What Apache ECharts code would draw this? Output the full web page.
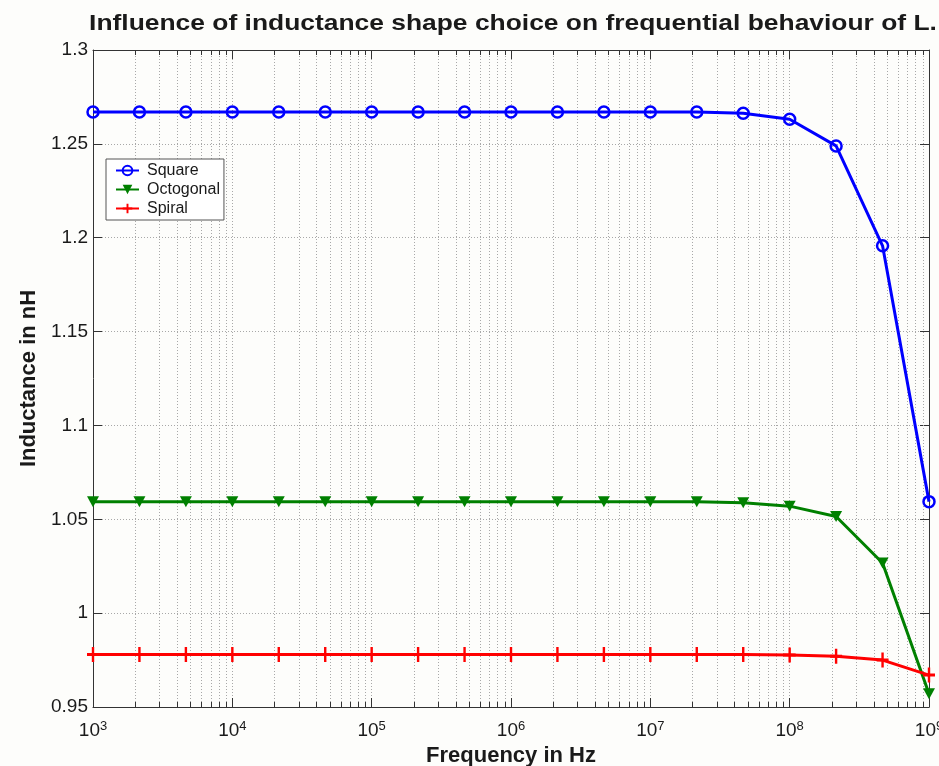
<!DOCTYPE html>
<html>
<head>
<meta charset="utf-8">
<script src="https://cdn.jsdelivr.net/npm/echarts@6/dist/echarts.min.js"></script>
<style>
  html, body { margin: 0; padding: 0; background: #fdfdfb; overflow: hidden; }
  #chart { width: 100vw; height: 100vh; }
</style>
</head>
<body>
<div id="chart"></div>
<script>
// frequency sweep, 3 points per decade
const freqs = [1e3, 2.154e3, 4.642e3, 1e4, 2.154e4, 4.642e4, 1e5, 2.154e5, 4.642e5,
  1e6, 2.154e6, 4.642e6, 1e7, 2.154e7, 4.642e7, 1e8, 2.154e8, 4.642e8, 1e9];

const square = [1.267, 1.267, 1.267, 1.267, 1.267, 1.267, 1.267, 1.267, 1.267, 1.267,
  1.267, 1.267, 1.267, 1.267, 1.2663, 1.2631, 1.2489, 1.1957, 1.0594];
const octogonal = [1.0594, 1.0594, 1.0594, 1.0594, 1.0594, 1.0594, 1.0594, 1.0594, 1.0594, 1.0594,
  1.0594, 1.0594, 1.0594, 1.0594, 1.0588, 1.0570, 1.0515, 1.0267, 0.957];
const spiral = [0.978, 0.978, 0.978, 0.978, 0.978, 0.978, 0.978, 0.978, 0.978, 0.978,
  0.978, 0.978, 0.978, 0.978, 0.978, 0.9777, 0.977, 0.975, 0.967];

const seriesNames = ['Square', 'Octogonal', 'Spiral'];

// minor log gridlines (2..9 in each decade)
const minorMultipliers = [2, 3, 4, 5, 6, 7, 8, 9];
const decades = [1e3, 1e4, 1e5, 1e6, 1e7, 1e8];

const textColor = '#1a1a1a';
const gridColor = '#a8a8a8';
const axisColor = '#333';

const minorData = [];
decades.forEach(d => minorMultipliers.forEach(m => minorData.push([m * d, 1])));

const pair = (ys) => freqs.map((f, i) => [f, ys[i]]);

const chart = echarts.init(document.getElementById('chart'));

const option = {
  backgroundColor: '#fdfdfb',
  animation: false,
  textStyle: { fontFamily: 'Liberation Sans, Arial, sans-serif' },
  graphic: [{
    type: 'text',
    x: 513, y: 24,
    scaleX: 1.2,
    style: {
      text: 'Influence of inductance shape choice on frequential behaviour of L.',
      font: 'bold 22px Liberation Sans, Arial, sans-serif',
      fill: textColor,
      textAlign: 'center',
      textVerticalAlign: 'middle'
    }
  }],
  legend: {
    data: seriesNames,
    orient: 'vertical',
    left: 106,
    top: 159,
    backgroundColor: '#ffffff',
    borderColor: '#555',
    borderWidth: 1,
    borderRadius: 0,
    padding: [3, 4, 3, 9],
    itemGap: 2,
    itemWidth: 23,
    itemHeight: 12,
    textStyle: { fontSize: 16, lineHeight: 17, color: textColor, padding: [0, 0, 0, 3] }
  },
  // keep the plot box where it is even if the 10^9 label spills past the edge
  grid: { left: 93, right: 10, top: 50, bottom: 59, outerBoundsMode: 'none', containLabel: false },
  xAxis: [{
    type: 'log',
    min: 1e3,
    max: 1e9,
    splitNumber: 6,
    name: 'Frequency in Hz',
    nameLocation: 'middle',
    nameGap: 26,
    nameTextStyle: { fontSize: 22, fontWeight: 'bold', color: textColor },
    axisLine: { lineStyle: { color: axisColor } },
    axisTick: { inside: true, length: 9, lineStyle: { color: axisColor } },
    axisLabel: {
      margin: 13,
      formatter: v => '{b|10}{s|' + Math.round(Math.log10(v)) + '}',
      rich: {
        b: { fontSize: 19, lineHeight: 22, color: textColor },
        s: { fontSize: 13, lineHeight: 13, verticalAlign: 'top', color: textColor }
      }
    },
    splitLine: { show: true, lineStyle: { color: gridColor, type: [1, 2] } }
  }, {
    type: 'log',
    position: 'top',
    min: 1e3,
    max: 1e9,
    splitNumber: 6,
    axisLine: { lineStyle: { color: axisColor } },
    axisTick: { inside: true, length: 9, lineStyle: { color: axisColor } },
    axisLabel: { show: false },
    splitLine: { show: false }
  }],
  yAxis: [{
    type: 'value',
    min: 0.95,
    max: 1.3,
    interval: 0.05,
    name: 'Inductance in nH',
    nameLocation: 'middle',
    nameGap: 53,
    nameTextStyle: { fontSize: 22, fontWeight: 'bold', color: textColor },
    axisLine: { show: true, lineStyle: { color: axisColor } },
    axisTick: { show: true, inside: true, length: 9, lineStyle: { color: axisColor } },
    axisLabel: { fontSize: 19, color: textColor, margin: 5 },
    splitLine: { show: true, lineStyle: { color: gridColor, type: [1, 2] } }
  }, {
    type: 'value',
    position: 'right',
    min: 0.95,
    max: 1.3,
    interval: 0.05,
    axisLine: { show: true, lineStyle: { color: axisColor } },
    axisTick: { show: true, inside: true, length: 9, lineStyle: { color: axisColor } },
    axisLabel: { show: false },
    splitLine: { show: false }
  }],
  series: [
    {
      type: 'custom',
      silent: true,
      z: 1,
      data: minorData,
      renderItem: (params, api) => {
        const cs = params.coordSys;
        const x = Math.round(api.coord([api.value(0), 1])[0]) + 0.5;
        const yb = cs.y + cs.height;
        return {
          type: 'group',
          children: [
            { type: 'line', shape: { x1: x, y1: cs.y, x2: x, y2: yb },
              style: { stroke: gridColor, lineWidth: 1, lineDash: [1, 2] } },
            { type: 'line', shape: { x1: x, y1: yb, x2: x, y2: yb - 5 },
              style: { stroke: axisColor, lineWidth: 1 } },
            { type: 'line', shape: { x1: x, y1: cs.y, x2: x, y2: cs.y + 5 },
              style: { stroke: axisColor, lineWidth: 1 } }
          ]
        };
      }
    },
    {
      name: 'Square',
      type: 'line',
      data: pair(square),
      symbol: 'circle',
      symbolSize: 11,
      z: 4,
      lineStyle: { color: '#0000ff', width: 3 },
      // hollow circles
      itemStyle: { color: 'rgba(0,0,0,0)', borderColor: '#0000ff', borderWidth: 2.5 },
      emphasis: { disabled: true }
    },
    {
      name: 'Octogonal',
      type: 'line',
      data: pair(octogonal),
      symbol: 'triangle',
      symbolRotate: 180,
      symbolSize: [12, 11],
      z: 3,
      lineStyle: { color: '#008000', width: 3 },
      itemStyle: { color: '#008000' },
      emphasis: { disabled: true }
    },
    {
      name: 'Spiral',
      type: 'line',
      data: pair(spiral),
      symbol: 'path://M4,0H6V4H10V6H6V10H4V6H0V4H4Z',
      symbolSize: [12, 15],
      z: 3,
      lineStyle: { color: '#ff0000', width: 3 },
      itemStyle: { color: '#ff0000' },
      emphasis: { disabled: true }
    }
  ]
};

chart.setOption(option);
</script>
</body>
</html>
